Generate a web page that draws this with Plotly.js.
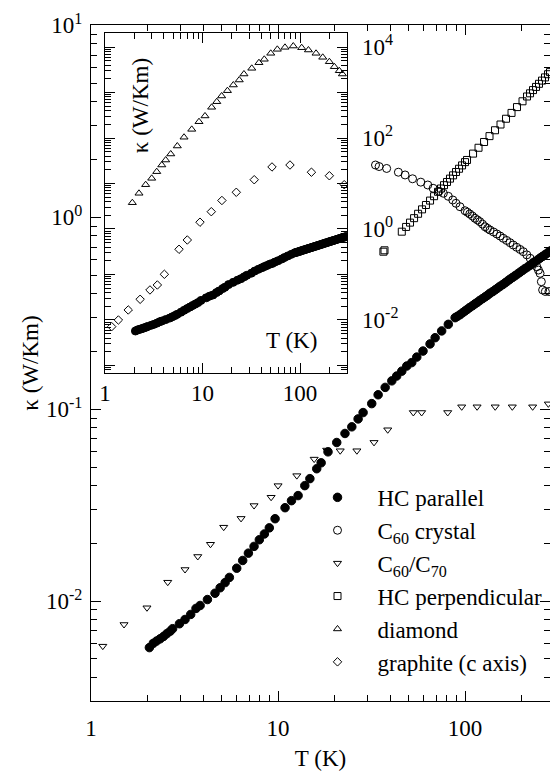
<!DOCTYPE html>
<html><head><meta charset="utf-8">
<script src="https://cdn.plot.ly/plotly-3.0.1.min.js"></script>
<style>html,body{margin:0;padding:0;background:#fff}#chart{width:550px;height:773px}</style>
</head><body><div id="chart"></div>
<script>
// ---------- data ----------
// HC parallel (main plot and left inset)
const hcParT = [2.05,2.15,2.24,2.34,2.44,2.54,2.65,2.73,2.97,3.18,3.41,3.64,3.83,4.19,4.60,4.90,5.21,5.49,6.01,6.47,6.94,7.44,7.94,8.45,8.98,9.64,10.9,11.8,12.8,13.9,14.8,16.1,17.0,18.5,20.6,22.8,24.8,26.8,28.5,31.7,34.3,37.4,40.6,43.1,45.9,48.8,51.9,55.2,59.6,65.0,69.2,75.0,81.4,88.5,91,94,97,100,103,106,109.5,113,116.5,120,124,128,132,136,140.5,145,149.5,154,159,164,169,174,179.5,185,191,197,203,209,216,223,230,237,244.5,252,260,268,276,285,292,300];
const hcParK = [0.00573,0.00603,0.0062,0.00637,0.00655,0.00677,0.00698,0.00719,0.00763,0.00803,0.00853,0.00917,0.0095,0.0102,0.0110,0.01175,0.0125,0.0133,0.01485,0.0163,0.0178,0.0193,0.0209,0.0224,0.0241,0.0269,0.0307,0.0334,0.0355,0.040,0.0435,0.049,0.0526,0.060,0.0671,0.0748,0.081,0.0891,0.0961,0.107,0.119,0.130,0.1406,0.149,0.158,0.168,0.175,0.187,0.201,0.219,0.236,0.256,0.277,0.300,0.305,0.311,0.318,0.325,0.332,0.339,0.346,0.354,0.361,0.369,0.377,0.385,0.393,0.402,0.410,0.419,0.428,0.437,0.446,0.456,0.466,0.476,0.486,0.496,0.507,0.518,0.529,0.540,0.551,0.563,0.575,0.588,0.600,0.613,0.626,0.639,0.652,0.666,0.673,0.68];
// C60 crystal (right inset)
const c60T = [33.2,34.7,38.1,44.0,47.8,52.4,58.0,63.2,67.5,72.6,76.6,81.4,86.0,89.5,94.0,100,103,106,109.5,113,116.5,120,124,128,132,136,142,148,154,160,167,174,181,189,197,205,214,223,232,242,247,252,256,260,269,281];
const c60K = [25.5,23.6,21.4,17.7,15.4,12.7,10.7,9.27,7.85,6.75,6.10,5.23,4.34,3.67,3.09,2.52,2.33,2.14,1.93,1.72,1.58,1.45,1.28,1.12,1.03,0.95,0.86,0.776,0.70,0.625,0.56,0.50,0.445,0.396,0.355,0.317,0.27,0.227,0.185,0.148,0.125,0.106,0.0695,0.0457,0.0423,0.0423];
// C60/C70 (main plot)
const c6070T = [1.155,1.50,1.99,2.57,3.18,3.72,4.35,5.12,6.34,7.44,9.18,10.0,12.6,15.6,18.2,21.5,26.4,32.6,38.6,52.9,58.6,80.8,96,116,145,179,230,279];
const c6070K = [0.00583,0.00756,0.00924,0.01256,0.01462,0.0171,0.0198,0.0243,0.0270,0.0315,0.0348,0.040,0.0451,0.055,0.0613,0.0608,0.0608,0.0672,0.0782,0.0962,0.0962,0.0962,0.103,0.103,0.103,0.103,0.103,0.1067];
// HC perpendicular (right inset)
const hcPerpT = [36.6,37.1,45.9,48.4,50.8,53.4,56.1,58.9,61.8,65.0,68.3,71.7,74.4,77.2,80.1,83.1,86.3,89.5,92.9,96.4,100,102.5,110.4,118.1,126.4,135.2,144.7,154.8,165.7,177.3,189.7,203,214.6,222.7,231,239.8,248.7,258.1,267.8,277.9,284.8];
const hcPerpK = [0.317,0.34,0.873,1.11,1.38,1.73,2.16,2.70,3.37,4.21,5.26,6.57,7.76,9.18,10.8,12.8,15.1,17.9,21.1,25.0,29.5,32.9,45.4,61.0,81.7,110,148,198,265,356,478,641,817,960,1130,1327,1553,1826,2147,2523,2807];
// diamond (left inset)
const diaT = [1.905,2.23,2.61,3.01,3.39,3.82,4.19,4.72,5.51,6.46,7.75,9.2,10.6,12.4,14.0,15.7,18.0,20.7,23.8,26.6,32.0,37.9,43.0,50.1,58.5,70.1,85.3,104,122,146,171,200,225,253,272];
const diaK = [3.78,6.09,9.41,13.0,18.2,25.5,32.8,44.5,66.7,104,155,228,305,473,628,838,1096,1462,1883,2551,3404,4518,5370,7270,8900,9840,10500,9660,8590,7270,5940,4750,3690,3010,2550];
// graphite (c axis) (left inset)
const grT = [1.17,1.37,1.73,2.29,2.89,3.44,4.06,5.74,6.98,9.42,12.3,15.8,22.2,33.9,51.6,78.9,131,200,284];
const grK = [0.00713,0.0100,0.0166,0.0285,0.0457,0.0588,0.101,0.358,0.573,1.41,2.40,4.23,6.41,12.1,23.1,25.5,17.7,14.8,9.41];

// tick labels
const mainXTickVals = [1,10,100];
const mainXTickText = ['1','10','100'];
const mainYTickVals = [0.01,0.1,1,10];
const mainYTickText = ['10<sup>-2</sup>','10<sup>-1</sup>','10<sup>0</sup>','10<sup>1</sup>'];
const insetYTickVals = [0.01,1,100,10000];
const insetYTickText = ['10<sup>-2</sup>','10<sup>0</sup>','10<sup>2</sup>','10<sup>4</sup>'];
const seriesNames = ['HC parallel','C<sub>60</sub> crystal','C<sub>60</sub>/C<sub>70</sub>','HC perpendicular','diamond','graphite (c axis)'];

// ---------- helpers ----------
const FONT = 'Liberation Serif, Times New Roman, serif';
function decades(lo, hi){ const v=[]; for(let d=lo; d<=hi; d++) v.push(Math.pow(10,d)); return v; }
function logMinor(loExp, hiExp, minV, maxV){
  const v=[];
  for(let d=loExp; d<=hiExp; d++) for(let m=2;m<=9;m++){ const t=m*Math.pow(10,d); if(t>=minV && t<=maxV) v.push(t); }
  return v;
}
const tickStyle = {ticks:'inside', tickcolor:'#000', tickwidth:1, ticklen:10};
const minorStyle = (vals)=>({tickmode:'array', tickvals:vals, ticks:'inside', ticklen:6, tickcolor:'#000', tickwidth:1, showgrid:false});
const tf = {family:FONT, size:23, color:'#000'};
const mk = (symbol, size)=>({symbol:symbol, size:size, color:'#000', line:{color:'#000', width:1}});

const data = [
  {x:hcParT, y:hcParK, xaxis:'x', yaxis:'y', type:'scatter', mode:'markers', name:seriesNames[0], marker:mk('circle',8.5)},
  {x:c60T, y:c60K, xaxis:'x', yaxis:'y3', type:'scatter', mode:'markers', name:seriesNames[1], marker:mk('circle-open',8)},
  {x:c6070T, y:c6070K, xaxis:'x', yaxis:'y', type:'scatter', mode:'markers', name:seriesNames[2], marker:mk('triangle-down-open',7)},
  {x:hcPerpT, y:hcPerpK, xaxis:'x', yaxis:'y3', type:'scatter', mode:'markers', name:seriesNames[3], marker:mk('square-open',7)},
  {x:diaT, y:diaK, xaxis:'x2', yaxis:'y2', type:'scatter', mode:'markers', name:seriesNames[4], marker:mk('triangle-up-open',7)},
  {x:grT, y:grK, xaxis:'x2', yaxis:'y2', type:'scatter', mode:'markers', name:seriesNames[5], marker:mk('diamond-open',6.5)},
  {x:hcParT, y:hcParK, xaxis:'x2', yaxis:'y2', type:'scatter', mode:'markers', name:seriesNames[0], showlegend:false, marker:mk('circle',8)}
];

const insetYRange = [-3.158, 4.301];
const insetYDomain = [0.4857, 0.9877];
const insetXDomain = [0.0305, 0.5588];

const layout = {
  width:550, height:773,
  margin:{l:91, r:0, t:25, b:72, pad:0},
  paper_bgcolor:'#fff', plot_bgcolor:'rgba(0,0,0,0)',
  showlegend:true,
  font:{family:FONT, size:23, color:'#000'},
  xaxis:Object.assign({type:'log', range:[-0.0005, 2.4545], domain:[0,1], anchor:'y',
    showline:true, linecolor:'#000', linewidth:1, mirror:'ticks', showgrid:false, zeroline:false,
    tickmode:'array', tickvals:mainXTickVals, ticktext:mainXTickText, tickfont:tf, ticklabelstandoff:6,
    minor:minorStyle(logMinor(0,2,1,300)),
    title:{text:'T (K)', font:tf, standoff:10}}, tickStyle),
  yaxis:Object.assign({type:'log', range:[-2.52, 1.002], domain:[0,1], anchor:'x',
    showline:true, linecolor:'#000', linewidth:1, mirror:'ticks', showgrid:false, zeroline:false,
    tickmode:'array', tickvals:mainYTickVals, ticktext:mainYTickText, tickfont:tf, ticklabelstandoff:3,
    minor:minorStyle(logMinor(-3,0,0.003,10)),
    title:{text:'κ (W/Km)', font:tf, standoff:0}}, tickStyle),
  xaxis2:Object.assign({type:'log', range:[-0.0005, 2.487], domain:insetXDomain, anchor:'y2',
    showline:true, linecolor:'#000', linewidth:1, mirror:'ticks', showgrid:false, zeroline:false,
    tickmode:'array', tickvals:mainXTickVals, ticktext:mainXTickText, tickfont:tf, ticklabelstandoff:0,
    minor:minorStyle(logMinor(0,2,1,300))}, tickStyle),
  yaxis2:Object.assign({type:'log', range:insetYRange, domain:insetYDomain, anchor:'x2',
    showline:true, linecolor:'#000', linewidth:1, mirror:'ticks', showgrid:false, zeroline:false,
    tickmode:'array', tickvals:decades(-3,4), showticklabels:false,
    minor:minorStyle(logMinor(-4,4,0.0007,20000))}, tickStyle),
  yaxis3:{type:'log', range:insetYRange, domain:insetYDomain, anchor:'free', position:insetXDomain[1], side:'right',
    showline:false, showgrid:false, zeroline:false, ticks:'outside', ticklen:9, tickcolor:'rgba(0,0,0,0)',
    tickmode:'array', tickvals:insetYTickVals, ticktext:insetYTickText, tickfont:tf},
  legend:{x:0.4499, xanchor:'left', y:0.333, yanchor:'top', font:tf, bgcolor:'rgba(0,0,0,0)', borderwidth:0, tracegroupgap:0, itemwidth:70},
  annotations:[
    {text:'T (K)', xref:'paper', yref:'paper', x:0.4379, y:0.534, showarrow:false, font:tf, xanchor:'center', yanchor:'middle'},
    {text:'κ (W/Km)', xref:'paper', yref:'paper', x:0.1068, y:0.880, showarrow:false, font:tf, textangle:-90, xanchor:'center', yanchor:'middle'}
  ]
};

Plotly.newPlot('chart', data, layout, {staticPlot:true, displayModeBar:false});
</script>
</body></html>
